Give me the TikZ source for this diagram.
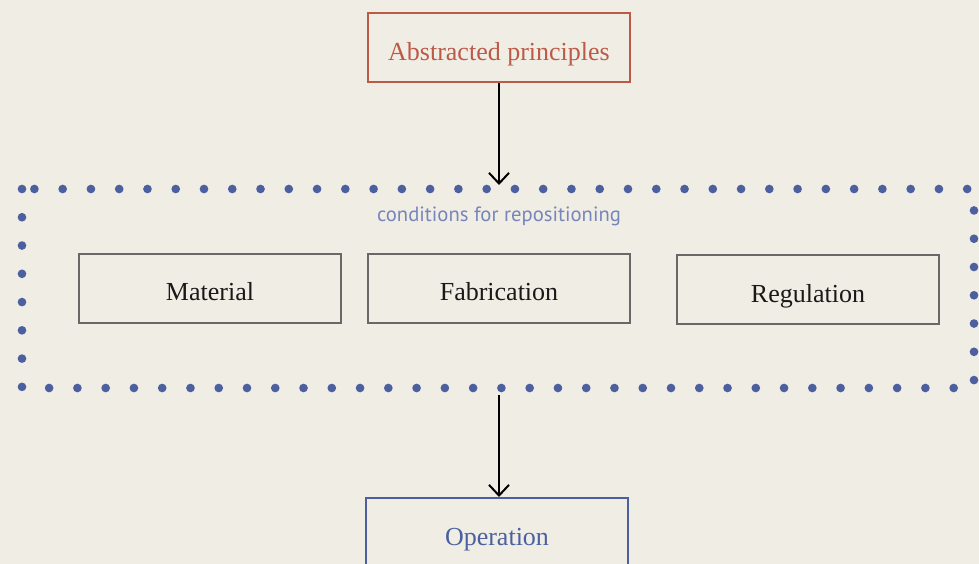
\documentclass[tikz,border=0pt]{standalone}
\usepackage{fontspec}
\setmainfont{Liberation Serif}
\setsansfont{PT Sans}
\usepackage{xcolor}
\usetikzlibrary{positioning,arrows.meta,calc}
\definecolor{paper}{RGB}{240,237,229}
\definecolor{rustred}{RGB}{188,90,72}
\definecolor{slateblue}{RGB}{76,96,160}
\definecolor{paleblue}{RGB}{118,134,186}
\definecolor{boxgray}{RGB}{104,104,104}
\tikzset{
  frame/.style={draw, line width=1.5pt, fill=paper, align=center, minimum width=196.5pt, minimum height=51.75pt, font=\fontsize{19.5}{22}\selectfont, inner sep=0pt, text height=19pt, text depth=0pt},
  principle/.style={frame, draw=rustred, text=rustred},
  condition/.style={frame, draw=boxgray, text=black!90},
  outcome/.style={frame, draw=slateblue, text=slateblue},
  dotline/.style={draw=slateblue, line width=6.5pt, line cap=round, dash pattern=on 0pt off 21.2pt},
  arr/.style={-{Straight Barb[length=8pt,width=15pt]}, line width=1.5pt, draw=black},
}
\begin{document}
\begin{tikzpicture}[x=0.75pt,y=-0.75pt]
  \fill[paper] (0,0) rectangle (979,564);
  \useasboundingbox (0,0) rectangle (979,564);
  % the repositioning frame
  \draw[dotline] (22,189) rectangle (974,388);
  \node[font=\sffamily\fontsize{15.5}{18}\selectfont, text=paleblue] (lbl) at (499,216) {conditions for repositioning};
  \node[principle] (ap) at (499,47.5) {Abstracted principles};
  \node[condition] (mat) at (210,288) {Material};
  \node[condition] (fab) at (499,288) {Fabrication};
  \node[condition] (reg) at (808,289.5) {Regulation};
  \node[outcome] (op) at (497,532.5) {Operation};
  \coordinate (fin) at (499,185);
  \coordinate (fout) at (499,395);
  \draw[arr] (ap.south) -- (fin);
  \draw[arr] (fout) -- (op.north -| fout);
\end{tikzpicture}
\end{document}
